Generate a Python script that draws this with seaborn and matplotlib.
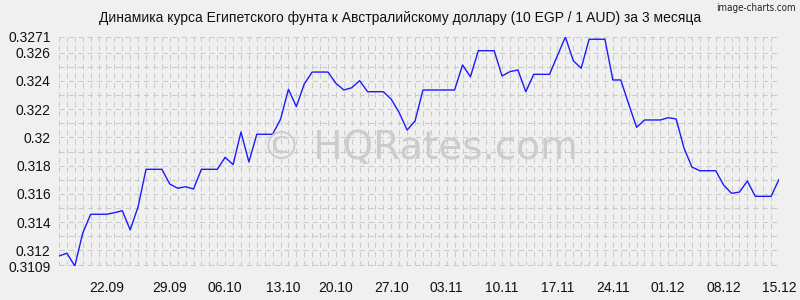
import matplotlib
matplotlib.use("Agg")
import matplotlib.pyplot as plt
import seaborn as sns
import numpy as np
import pandas as pd

# ---- data ----
start_date = "2024-09-16"
rates = [
    0.31161, 0.31180, 0.31090, 0.31323, 0.31456, 0.31456, 0.31456, 0.31467,
    0.31481, 0.31345, 0.31510, 0.31774, 0.31774, 0.31774, 0.31670, 0.31640,
    0.31651, 0.31635, 0.31774, 0.31774, 0.31774, 0.31859, 0.31807, 0.32038,
    0.31826, 0.32022, 0.32022, 0.32022, 0.32128, 0.32340, 0.32217, 0.32378,
    0.32462, 0.32462, 0.32462, 0.32382, 0.32335, 0.32351, 0.32401, 0.32323,
    0.32323, 0.32323, 0.32269, 0.32174, 0.32052, 0.32116, 0.32335, 0.32335,
    0.32335, 0.32335, 0.32335, 0.32512, 0.32429, 0.32613, 0.32613, 0.32613,
    0.32434, 0.32465, 0.32477, 0.32323, 0.32446, 0.32446, 0.32446, 0.32579,
    0.32710, 0.32542, 0.32489, 0.32694, 0.32694, 0.32694, 0.32406, 0.32406,
    0.32236, 0.32071, 0.32123, 0.32123, 0.32123, 0.32139, 0.32130, 0.31923,
    0.31790, 0.31764, 0.31764, 0.31764, 0.31663, 0.31604, 0.31613, 0.31691,
    0.31583, 0.31583, 0.31583, 0.31703,
]
x_labels = ["22.09", "29.09", "06.10", "13.10", "20.10", "27.10", "03.11",
            "10.11", "17.11", "24.11", "01.12", "08.12", "15.12"]
x_label_pos = [6, 14, 20.9, 28.3, 35, 42, 49, 56, 63, 70, 77, 84, 91]
y_ticks = [0.3109, 0.312, 0.314, 0.316, 0.318, 0.32, 0.322, 0.324, 0.326, 0.3271]
y_labels = ["0.3109", "0.312", "0.314", "0.316", "0.318", "0.32", "0.322",
            "0.324", "0.326", "0.3271"]
title = "Динамика курса Египетского фунта к Австралийскому доллару (10 EGP / 1 AUD) за 3 месяца"

df = pd.DataFrame({"day": np.arange(len(rates)), "rate": rates})

# ---- style ----
sns.set_style("white")
plt.rcParams["font.family"] = ["Liberation Sans", "DejaVu Sans"]
bg = "#f0f0f0"
gridc = "#cacaca"

fig = plt.figure(figsize=(8, 3), dpi=100, facecolor=bg)
ax = fig.add_axes([59 / 800, 1 - 266 / 300, 720 / 800, 229 / 300])
ax.set_facecolor(bg)

ymin, ymax = 0.3109, 0.3271
ax.set_xlim(0, len(rates) - 1)
ax.set_ylim(ymin, ymax)

# grid
dash = (0, (5, 4))
for d in range(len(rates)):
    ax.axvline(d, color=gridc, lw=0.75, ls=dash, zorder=0)
for v in np.arange(0.311, 0.32605, 0.001):
    ax.axhline(v, color=gridc, lw=0.75, ls=dash, zorder=0)
ax.axhline(ymin, color="#c0c0c0", lw=0.75, ls=dash, zorder=0)
ax.axhline(ymax, color=gridc, lw=0.75, ls=dash, zorder=0)

# watermark
fig.text(420 / 800, 1 - 148 / 300, "© HQRates.com", fontsize=28,
         color="#cccccc", family="DejaVu Sans", ha="center", va="center",
         zorder=1)

sns.lineplot(data=df, x="day", y="rate", ax=ax, color="#1a1aff",
             linewidth=1.0, zorder=3)

for s in ax.spines.values():
    s.set_visible(False)

ax.set_xticks(x_label_pos)
ax.set_xticklabels(x_labels)
ax.set_xticks(np.arange(len(rates)), minor=True)
ax.tick_params(axis="x", which="major", length=0, pad=11, labelsize=10,
               labelcolor="#111111")
ax.tick_params(axis="x", which="minor", length=3, color=gridc, width=0.75)
ax.set_yticks(y_ticks)
ax.set_yticklabels(y_labels)
ax.tick_params(axis="y", which="major", length=3, color=gridc, width=0.75,
               pad=3, labelsize=10, labelcolor="#111111")
ax.set_xlabel("")
ax.set_ylabel("")

fig.text(0.5, 1 - 18 / 300, title, ha="center", va="center", fontsize=10,
         color="#111111")
fig.text(796 / 800, 1 - 8 / 300, "image-charts.com", ha="right", va="center",
         fontsize=7, color="#222222", family="DejaVu Sans",
         fontstretch="condensed")

fig.savefig("out.png", dpi=100, facecolor=bg)
